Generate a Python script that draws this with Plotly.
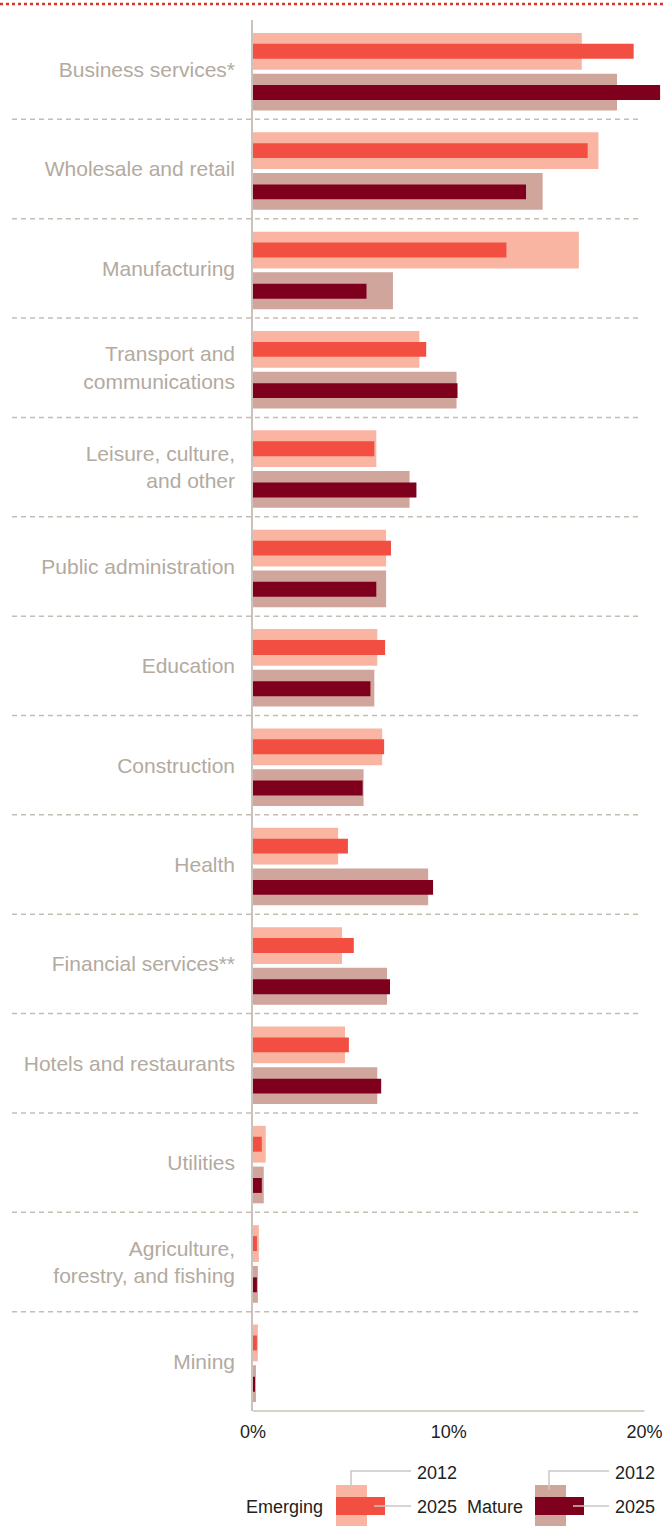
import plotly.graph_objects as go

# ---------------- data ----------------
categories = [
    "Business services*",
    "Wholesale and retail",
    "Manufacturing",
    "Transport and<br>communications",
    "Leisure, culture,<br>and other",
    "Public administration",
    "Education",
    "Construction",
    "Health",
    "Financial services**",
    "Hotels and restaurants",
    "Utilities",
    "Agriculture,<br>forestry, and fishing",
    "Mining",
]
emerging_2012 = [16.8, 17.65, 16.65, 8.5, 6.3, 6.8, 6.35, 6.6, 4.35, 4.55, 4.7, 0.65, 0.3, 0.25]
emerging_2025 = [19.45, 17.1, 12.95, 8.85, 6.2, 7.05, 6.75, 6.7, 4.85, 5.15, 4.9, 0.45, 0.2, 0.2]
mature_2012 = [18.6, 14.8, 7.15, 10.4, 8.0, 6.8, 6.2, 5.65, 8.95, 6.85, 6.35, 0.55, 0.25, 0.15]
mature_2025 = [20.8, 13.95, 5.8, 10.45, 8.35, 6.3, 6.0, 5.6, 9.2, 7.0, 6.55, 0.45, 0.2, 0.1]
x_tick_vals = [0, 10, 20]
x_tick_text = ["0%", "10%", "20%"]
legend_groups = ["Emerging", "Mature"]
legend_years = ["2012", "2025"]

# ---------------- styles ----------------
C_E12 = "#f9b5a1"
C_E25 = "#f24e42"
C_M12 = "#d0a59c"
C_M25 = "#7f001c"
LABEL_C = "#b3aaa0"
GRID_C = "#c6bdb2"
AXIS_C = "#cbc3bb"
FONT = "Liberation Sans, Arial, Helvetica, sans-serif"

W, H = 664, 1526
L, R, T, B = 253, 0, 20, 115
PW = W - L - R
PH = H - T - B
XMAX = 21.0

def px(x):
    return (x - L) / PW

def py(y):
    return (H - B - y) / PH

y_idx = list(range(len(categories)))

fig = go.Figure()
def add_bar(vals, color, offset, width, name):
    fig.add_trace(go.Bar(
        x=vals, y=y_idx, orientation="h", name=name,
        marker=dict(color=color, line=dict(width=0)),
        offset=offset, width=width, showlegend=False, hoverinfo="x+name",
    ))

add_bar(emerging_2012, C_E12, -0.37, 0.37, "Emerging 2012")
add_bar(emerging_2025, C_E25, -0.26, 0.15, "Emerging 2025")
add_bar(mature_2012, C_M12, 0.04, 0.37, "Mature 2012")
add_bar(mature_2025, C_M25, 0.155, 0.15, "Mature 2025")

shapes = []
# dashed separators between categories
for i in range(len(categories) - 1):
    shapes.append(dict(type="line", xref="paper", yref="y",
                       x0=px(12), x1=px(640), y0=i + 0.5, y1=i + 0.5,
                       line=dict(color=GRID_C, width=1.5, dash="5px,4px")))
# bottom axis line (0%..20%)
shapes.append(dict(type="line", xref="x", yref="paper", x0=0, x1=20, y0=0, y1=0,
                   line=dict(color=AXIS_C, width=1.5)))
# top red dotted rule
shapes.append(dict(type="line", xref="paper", yref="paper", x0=px(0), x1=px(664),
                   y0=py(4), y1=py(4), line=dict(color="#d9352a", width=2.5, dash="3px,3px")))

annotations = []
# custom legend
legend_specs = [
    (legend_groups[0], 325, 336, 31, 49, C_E12, C_E25, 351, 374, 411, 415),
    (legend_groups[1], 525, 535, 31, 49, C_M12, C_M25, 549, 573, 609, 613),
]
for (lab, lx, sx, sw, bw, light, dark, vx, hx, ex, tx) in legend_specs:
    shapes.append(dict(type="rect", xref="paper", yref="paper",
                       x0=px(sx), x1=px(sx + sw), y0=py(1485), y1=py(1532),
                       fillcolor=light, line=dict(width=0)))
    shapes.append(dict(type="rect", xref="paper", yref="paper",
                       x0=px(sx), x1=px(sx + bw), y0=py(1497), y1=py(1515),
                       fillcolor=dark, line=dict(width=0)))
    shapes.append(dict(type="path", xref="paper", yref="paper",
                       path=f"M {px(vx)},{py(1490)} L {px(vx)},{py(1471)} L {px(ex)},{py(1471)}",
                       line=dict(color="#cdc6c0", width=1.5)))
    shapes.append(dict(type="line", xref="paper", yref="paper",
                       x0=px(hx), x1=px(ex), y0=py(1506), y1=py(1506),
                       line=dict(color="#cdc6c0", width=1.5)))
    annotations.append(dict(xref="paper", yref="paper", x=px(lx), y=py(1507),
                            text=lab, showarrow=False, xanchor="right", yanchor="middle",
                            font=dict(size=18, color="#222222", family=FONT)))
    annotations.append(dict(xref="paper", yref="paper", x=px(tx), y=py(1473),
                            text=legend_years[0], showarrow=False, xanchor="left", yanchor="middle",
                            font=dict(size=18, color="#222222", family=FONT)))
    annotations.append(dict(xref="paper", yref="paper", x=px(tx), y=py(1507),
                            text=legend_years[1], showarrow=False, xanchor="left", yanchor="middle",
                            font=dict(size=18, color="#222222", family=FONT)))

fig.update_layout(
    width=W, height=H,
    margin=dict(l=L, r=R, t=T, b=B, pad=0),
    paper_bgcolor="white", plot_bgcolor="white",
    barmode="overlay",
    font=dict(family=FONT),
    shapes=shapes,
    annotations=annotations,
    xaxis=dict(range=[0, XMAX], tickvals=x_tick_vals, ticktext=x_tick_text,
               showgrid=False, zeroline=False, showline=False, ticks="",
               tickfont=dict(size=18, color="#222222", family=FONT),
               ticklabelstandoff=8, fixedrange=True),
    yaxis=dict(range=[len(categories) - 0.5, -0.5], tickvals=y_idx, ticktext=categories,
               showgrid=False, zeroline=False, showline=True, linecolor=AXIS_C, linewidth=1.5,
               ticks="", tickfont=dict(size=21, color=LABEL_C, family=FONT),
               ticklabelstandoff=12, fixedrange=True),
)

fig.write_html(
    "out.html",
    config={"displayModeBar": False},
    post_script="document.body.style.margin='0';document.body.style.overflow='hidden';",
)
